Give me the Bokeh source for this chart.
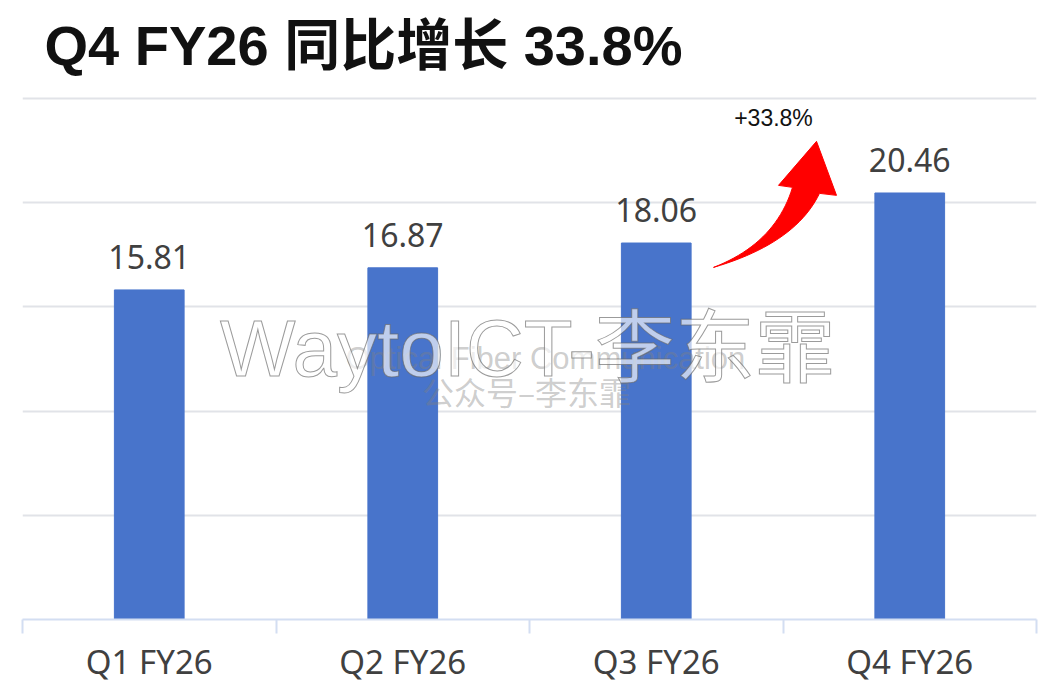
from bokeh.core.properties import value
from bokeh.embed import file_html
from bokeh.models import FixedTicker, LinearAxis, Range1d
from bokeh.plotting import figure
from bokeh.resources import INLINE
import numpy as np

quarters = ["Q1 FY26", "Q2 FY26", "Q3 FY26", "Q4 FY26"]
revenue = [15.81, 16.87, 18.06, 20.46]
grid_values = [0, 5, 10, 15, 20, 25]
title_text = "Q4 FY26 同比增长 33.8%"
growth_label = "+33.8%"
watermark = "WaytoICT-李东霏"
watermark_en = "Optical Fiber Communication"
watermark_cn = "公众号–李东霏"

BLUE = "#4874CB"
GREY_TEXT = "#404040"
GRID = "#E1E3E8"
AXIS = "#D3DEF2"

positions = [i + 0.5 for i in range(len(quarters))]

p = figure(
    width=1050,
    height=690,
    output_backend="svg",
    toolbar_location=None,
    x_axis_type=None,
    x_range=Range1d(0, 4),
    y_range=Range1d(0, 26),
    min_border_left=22,
    min_border_right=14,
    min_border_top=77,
    min_border_bottom=71,
    outline_line_color=None,
    background_fill_color="white",
)

# title
p.title.text = title_text
p.title.text_font = "Liberation Sans, Noto Sans CJK SC"
p.title.text_font_style = "bold"
p.title.text_font_size = "56px"
p.title.text_color = "#111111"
p.title.offset = 22
p.title.standoff = 2

# only the grid of the y axis shows
p.yaxis.visible = False
p.ygrid.ticker = FixedTicker(ticks=grid_values)
p.ygrid.grid_line_color = GRID
p.ygrid.grid_line_width = 2

# labels in the middle of a category, ticks on the boundaries
x_axis = LinearAxis(
    ticker=FixedTicker(ticks=positions, minor_ticks=[0, 1, 2, 3, 4]),
    major_label_overrides=dict(zip(positions, quarters)),
)
x_axis.axis_line_color = AXIS
x_axis.axis_line_width = 2
x_axis.major_tick_line_color = None
x_axis.major_tick_out = 0
x_axis.major_tick_in = 0
x_axis.minor_tick_line_color = AXIS
x_axis.minor_tick_line_width = 2
x_axis.minor_tick_in = 0
x_axis.minor_tick_out = 14
x_axis.major_label_standoff = 5
x_axis.major_label_text_font = "Noto Sans"
x_axis.major_label_text_font_size = "33px"
x_axis.major_label_text_color = GREY_TEXT
p.add_layout(x_axis, "below")

p.vbar(x=positions, top=revenue, width=0.275, color=BLUE)
p.text(
    x=positions,
    y=revenue,
    text=[f"{v:.2f}" for v in revenue],
    text_align="center",
    text_baseline="bottom",
    y_offset=-21,
    text_font=value("Noto Sans"),
    text_font_size="32px",
    text_color=GREY_TEXT,
)


# arrow and watermarks sit at picture positions, so convert from pixels
def to_x(px):
    return (np.asarray(px, dtype=float) - 22) / 253.5


def to_y(py):
    return (619 - np.asarray(py, dtype=float)) / 20.84


def curve(a, b, c, n=24):
    t = np.linspace(0, 1, n)[:, None]
    return (1 - t) ** 2 * np.array(a) + 2 * t * (1 - t) * np.array(b) + t ** 2 * np.array(c)


upper = curve((713, 267), (775, 243), (792, 187))
lower = curve((819, 193), (795, 243), (713, 267))
head = np.array([(778, 185), (816, 141), (836, 195)])
arrow = np.vstack([upper, head, lower])
p.patch(to_x(arrow[:, 0]), to_y(arrow[:, 1]), color="#FF0000")

p.text(
    x=to_x([773]),
    y=to_y([118]),
    text=[growth_label],
    text_align="center",
    text_baseline="middle",
    text_font=value("Liberation Sans"),
    text_font_size="23px",
    text_color="#111111",
)

p.text(
    x=to_x([545]),
    y=to_y([358]),
    text=[watermark_en],
    text_align="center",
    text_baseline="middle",
    text_font=value("Liberation Sans"),
    text_font_size="31px",
    text_color="#808080",
    text_alpha=0.4,
)
p.text(
    x=to_x([526]),
    y=to_y([391]),
    text=[watermark_cn],
    text_align="center",
    text_baseline="middle",
    text_font=value("Noto Sans CJK SC"),
    text_font_size="32px",
    text_color="#808080",
    text_alpha=0.4,
)
p.text(
    x=to_x([527]),
    y=to_y([348]),
    text=[watermark],
    text_align="center",
    text_baseline="middle",
    text_font=value("Liberation Sans, Noto Sans CJK SC"),
    text_font_size="80px",
    text_color="#FFFFFF",
    text_alpha=0.65,
    text_outline_color="#666666",
)

open("out.html", "w").write(file_html(p, INLINE))
